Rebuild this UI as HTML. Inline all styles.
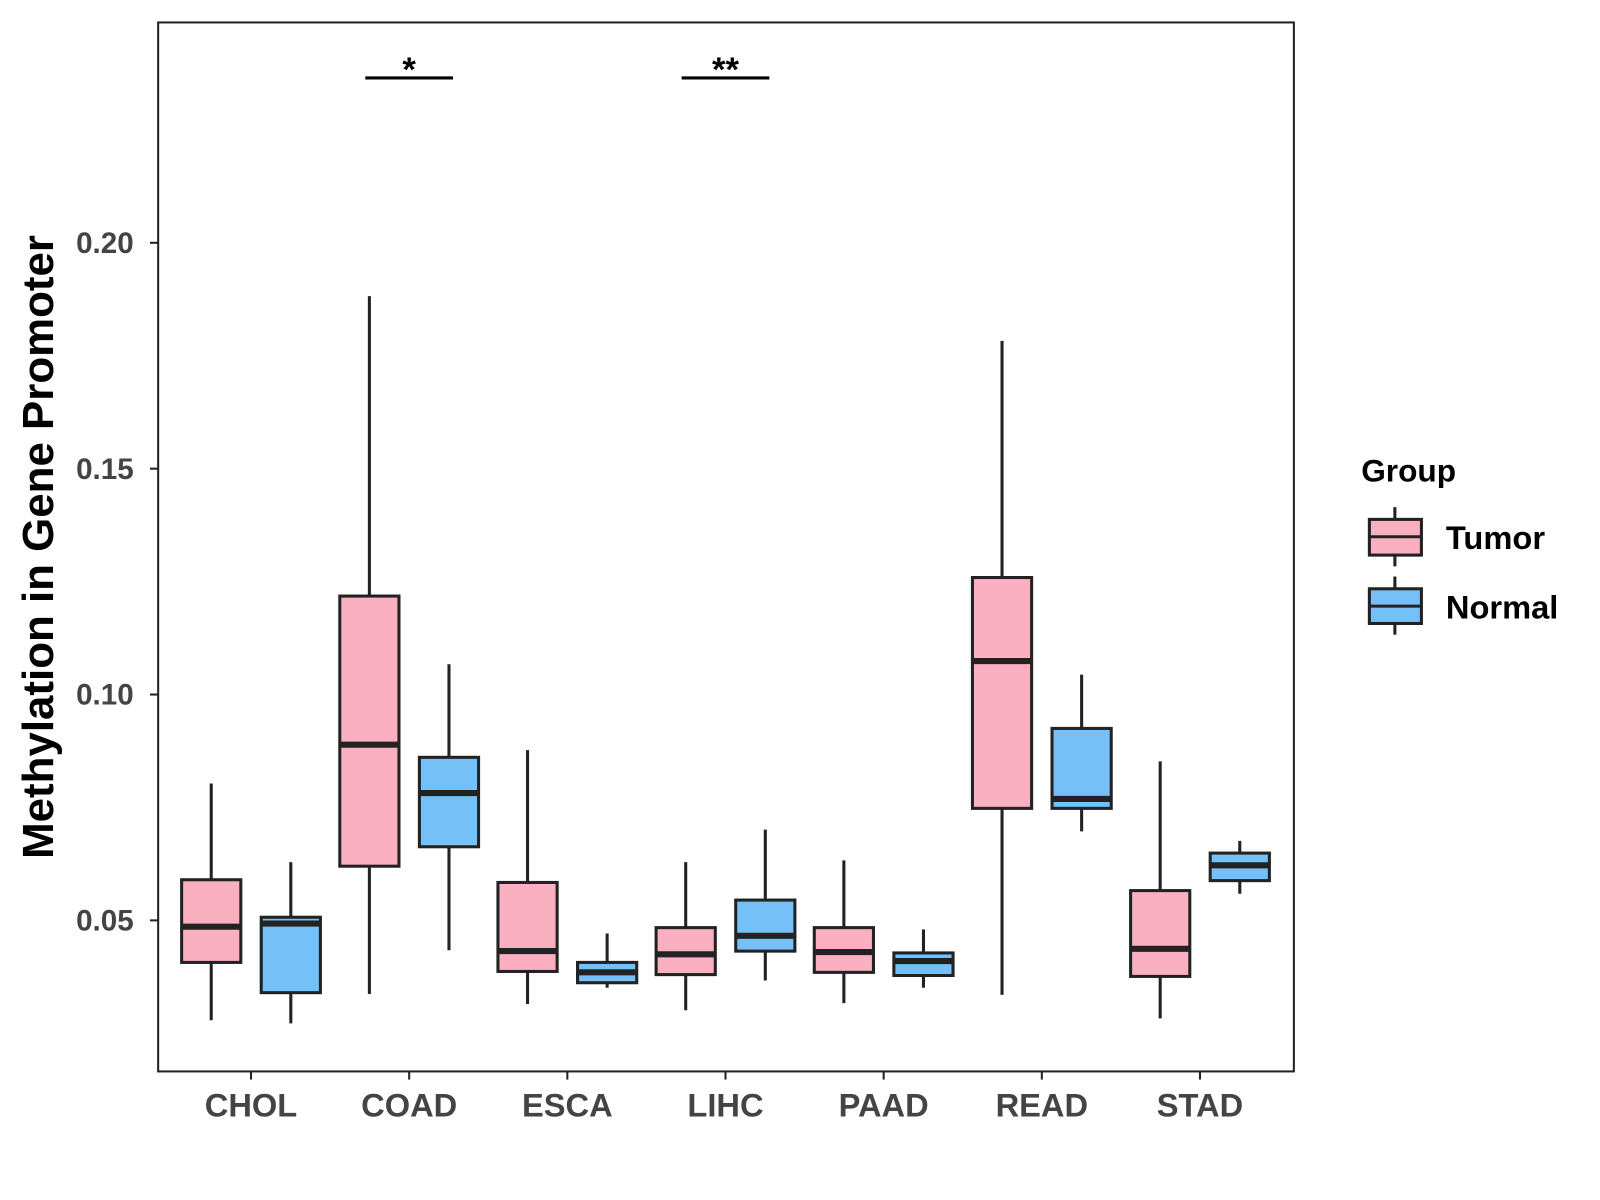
<!DOCTYPE html>
<html><head><meta charset="utf-8"><style>
body{margin:0;background:#fff;}
svg{display:block;font-family:"Liberation Sans",Arial,sans-serif;}
</style></head><body>
<svg id="chart" width="1600" height="1200" viewBox="0 0 1600 1200">
<rect x="0" y="0" width="1600" height="1200" fill="#fff"/>
<g transform="scale(1.0204)">
<rect x="155" y="22" width="1113" height="1028" fill="none" stroke="#222" stroke-width="2"/>
<g id="marks"></g>
<text transform="translate(52,536) rotate(-90)" text-anchor="middle" font-size="43" font-weight="bold" fill="#000">Methylation in Gene Promoter</text>
<g>
<text x="1334" y="472" font-size="31" font-weight="bold" fill="#000">Group</text>
<g>
<line x1="1367" y1="497" x2="1367" y2="555" stroke="#222" stroke-width="3"/>
<rect x="1342" y="509" width="51" height="35" fill="#FBB0C2" stroke="#222" stroke-width="3"/>
<line x1="1342" y1="526" x2="1393" y2="526" stroke="#222" stroke-width="3"/>
<text x="1417" y="538" font-size="32" font-weight="bold" fill="#000">Tumor</text>
</g>
<g>
<line x1="1367" y1="565" x2="1367" y2="622" stroke="#222" stroke-width="3"/>
<rect x="1342" y="577" width="51" height="34" fill="#75C1F7" stroke="#222" stroke-width="3"/>
<line x1="1342" y1="594" x2="1393" y2="594" stroke="#222" stroke-width="3"/>
<text x="1417" y="606" font-size="32" font-weight="bold" fill="#000">Normal</text>
</g>
</g>
</g>
</svg>
<script>
const categories=["CHOL","COAD","ESCA","LIHC","PAAD","READ","STAD"];
// [min, q1, median, q3, max]
const tumorStats=[[0.0279,0.0407,0.0486,0.059,0.0803],[0.0337,0.062,0.0889,0.1218,0.1882],[0.0315,0.0387,0.0432,0.0584,0.0877],[0.0301,0.038,0.0425,0.0484,0.0629],[0.0317,0.0385,0.043,0.0484,0.0633],[0.0335,0.0748,0.1074,0.1259,0.1783],[0.0283,0.0376,0.0437,0.0566,0.0852]];
const normalStats=[[0.0272,0.034,0.0493,0.0507,0.0629],[0.0434,0.0663,0.0782,0.0861,0.1067],[0.0351,0.0362,0.0385,0.0407,0.0471],[0.0367,0.0432,0.0466,0.0545,0.0701],[0.0351,0.0378,0.041,0.0428,0.048],[0.0697,0.0748,0.0769,0.0925,0.1044],[0.0559,0.0588,0.0622,0.0649,0.0676]];
const yTicks=[0.05,0.10,0.15,0.20];
const yTickLabels=["0.05","0.10","0.15","0.20"];
const sigLabels=[{cat:"COAD",text:"*",value:0.2365},{cat:"LIHC",text:"**",value:0.2365}];
const NS="http://www.w3.org/2000/svg";
function yScale(v){return 902-(v-0.05)*4427;}
function xScale(i){return 246+i*155;}
const g=document.getElementById('marks');
function mk(tag,attrs,parent){const e=document.createElementNS(NS,tag);for(const k in attrs)e.setAttribute(k,attrs[k]);(parent||g).appendChild(e);return e;}
yTicks.forEach((t,i)=>{
  const y=yScale(t);
  const tk=mk('line',{x1:147,x2:155,y1:y,y2:y,stroke:'#222','stroke-width':2});
  
  
  const lb=mk('text',{x:131,y:y+10,'text-anchor':'end','font-size':29,'font-weight':'bold',fill:'#444'});
  lb.textContent=yTickLabels[i];
  
  
});
categories.forEach((c,i)=>{
  const x=xScale(i);
  const tk=mk('line',{x1:x,x2:x,y1:1050,y2:1058,stroke:'#222','stroke-width':2});
  
  
  const lb=mk('text',{x:x,y:1094,'text-anchor':'middle','font-size':32,'font-weight':'bold',fill:'#444'});
  lb.textContent=c;
  
  
});
function box(s,cx,fill,name){
  const grp=mk('g',{});
  
  
  const w=58;
  mk('line',{x1:cx,x2:cx,y1:yScale(s[0]),y2:yScale(s[4]),stroke:'#222','stroke-width':3},grp);
  mk('rect',{x:cx-w/2,y:yScale(s[3]),width:w,height:yScale(s[1])-yScale(s[3]),fill:fill,stroke:'#222','stroke-width':3},grp);
  mk('line',{x1:cx-w/2,x2:cx+w/2,y1:yScale(s[2]),y2:yScale(s[2]),stroke:'#222','stroke-width':6},grp);
}
categories.forEach((c,i)=>{
  box(tumorStats[i],xScale(i)-39,'#FBB0C2','box-tumor-'+c.toLowerCase());
  box(normalStats[i],xScale(i)+39,'#75C1F7','box-normal-'+c.toLowerCase());
});
sigLabels.forEach(s=>{
  const i=categories.indexOf(s.cat);const x=xScale(i);const y=yScale(s.value);
  const ln=mk('line',{x1:x-43,x2:x+43,y1:y,y2:y,stroke:'#000','stroke-width':3});
  
  
  const t=mk('text',{x:x,y:y+3,'text-anchor':'middle','font-size':34,'font-weight':'bold',fill:'#000'});
  t.textContent=s.text;
  
  
});
</script>
</body></html>
